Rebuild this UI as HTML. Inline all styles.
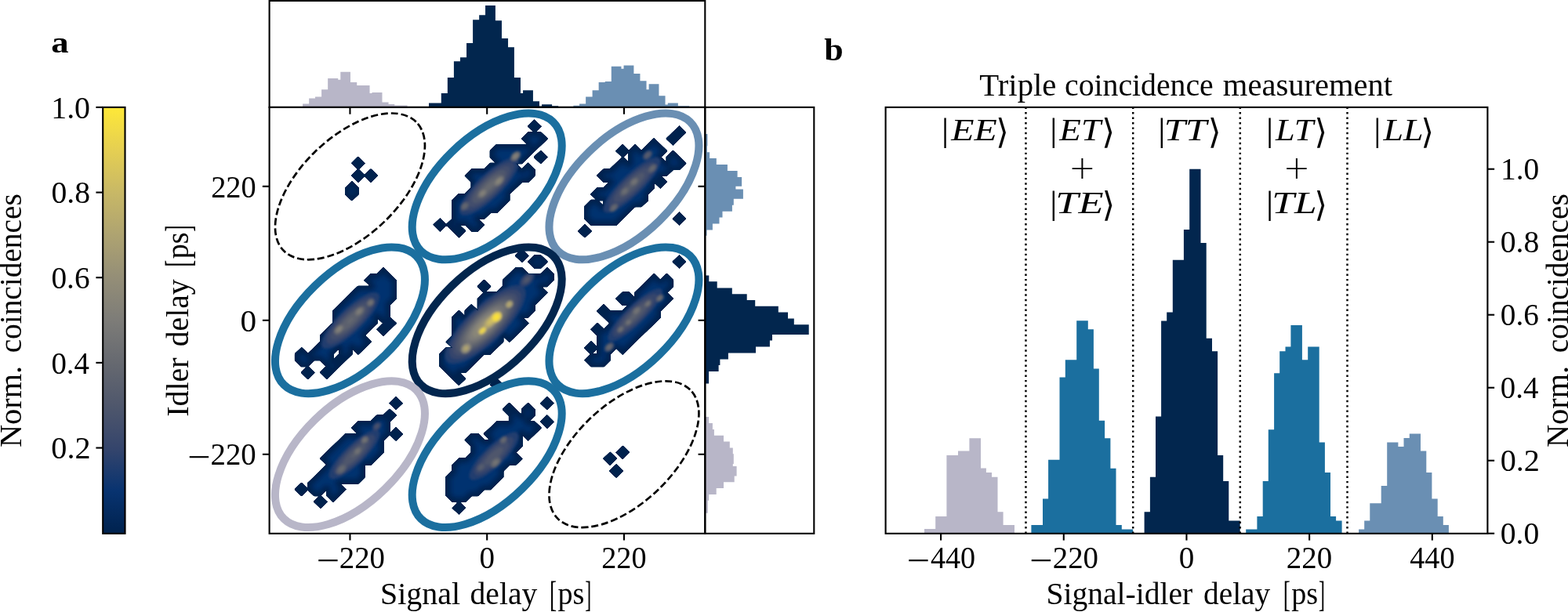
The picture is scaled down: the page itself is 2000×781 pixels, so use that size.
<!DOCTYPE html>
<html lang="en"><head><meta charset="utf-8"><title>Figure</title>
<style>html,body{margin:0;padding:0;background:#fff;overflow:hidden}svg{display:block}</style></head>
<body>
<svg width="2000" height="781" viewBox="0 0 2000 781" font-family="'Liberation Serif', serif" fill="#000">
<rect width="2000" height="781" fill="#fff"/>
<defs><linearGradient id="cb" x1="0" y1="1" x2="0" y2="0">
<stop offset="0.0" stop-color="#00224e"/>
<stop offset="0.1" stop-color="#083370"/>
<stop offset="0.2" stop-color="#35456c"/>
<stop offset="0.3" stop-color="#4f576c"/>
<stop offset="0.4" stop-color="#666970"/>
<stop offset="0.5" stop-color="#7d7c78"/>
<stop offset="0.6" stop-color="#948e77"/>
<stop offset="0.7" stop-color="#aea371"/>
<stop offset="0.8" stop-color="#c8b866"/>
<stop offset="0.9" stop-color="#e5cf52"/>
<stop offset="1.0" stop-color="#fee838"/>
</linearGradient></defs>
<rect x="131.2" y="136.9" width="28.30" height="543.95" fill="url(#cb)" stroke="#000" stroke-width="2.1"/>
<path d="M122.4,136.90H131.2" stroke="#000" stroke-width="2.1"/>
<text x="65.22" y="150.55" font-size="39.0" textLength="49.78" lengthAdjust="spacingAndGlyphs">1.0</text>
<path d="M122.4,245.56H131.2" stroke="#000" stroke-width="2.1"/>
<text x="65.41" y="259.21" font-size="39.0" textLength="49.57" lengthAdjust="spacingAndGlyphs">0.8</text>
<path d="M122.4,354.22H131.2" stroke="#000" stroke-width="2.1"/>
<text x="65.43" y="367.87" font-size="39.0" textLength="49.15" lengthAdjust="spacingAndGlyphs">0.6</text>
<path d="M122.4,462.88H131.2" stroke="#000" stroke-width="2.1"/>
<text x="65.45" y="476.53" font-size="39.0" textLength="48.54" lengthAdjust="spacingAndGlyphs">0.4</text>
<path d="M122.4,571.54H131.2" stroke="#000" stroke-width="2.1"/>
<text x="65.39" y="585.19" font-size="39.0" textLength="50.22" lengthAdjust="spacingAndGlyphs">0.2</text>
<text transform="translate(26.90,409.50) rotate(-90)" font-size="40.0" xml:space="preserve"><tspan x="-161.51" y="0.00" font-size="40.0" textLength="104.15" lengthAdjust="spacingAndGlyphs">Norm.</tspan> <tspan x="-40.87" y="0.00" font-size="40.0" textLength="203.11" lengthAdjust="spacingAndGlyphs">coincidences</tspan></text>
<path d="M386.09,136.90V132.51H394.16V136.90ZM394.16,136.90V125.41H402.03V136.90ZM402.03,136.90V123.49H410.10V136.90ZM410.10,136.90V114.27H418.16V136.90ZM418.16,136.90V100.06H431.22V136.90ZM431.22,136.90V101.79H434.30V136.90ZM434.30,136.90V91.80H446.97V136.90ZM446.97,136.90V105.05H455.23V136.90ZM455.23,136.90V109.08H471.55V136.90ZM471.55,136.90V119.07H474.43V136.90ZM474.43,136.90V118.11H487.49V136.90ZM487.49,136.90V130.59H495.56V136.90ZM495.56,136.90V133.09H503.24V136.90ZM503.24,136.90V134.43H519.57V136.90Z" fill="#b8b6c8"/>
<path d="M547.03,136.90V131.55H562.78V136.90ZM562.78,136.90V119.07H570.84V136.90ZM570.84,136.90V99.10H578.91V136.90ZM578.91,136.90V78.36H586.98V136.90ZM586.98,136.90V73.36H595.04V136.90ZM595.04,136.90V55.12H603.11V136.90ZM603.11,136.90V25.35H611.17V136.90ZM611.17,136.90V19.20H619.05V136.90ZM619.05,136.90V7.11H631.91V136.90ZM631.91,136.90V26.31H639.97V136.90ZM639.97,136.90V48.97H648.04V136.90ZM648.04,136.90V60.30H655.91V136.90ZM655.91,136.90V99.10H663.98V136.90ZM663.98,136.90V119.07H667.05V136.90ZM667.05,136.90V115.23H679.92V136.90ZM679.92,136.90V129.25H687.99V136.90ZM687.99,136.90V135.39H691.06V136.90ZM691.06,136.90V133.28H704.12V136.90ZM704.12,136.90V135.20H712.18V136.90Z" fill="#02264e"/>
<path d="M731.39,136.90V134.82H739.07V136.90ZM739.07,136.90V132.51H747.14V136.90ZM747.14,136.90V123.49H755.59V136.90ZM755.59,136.90V115.23H763.65V136.90ZM763.65,136.90V105.05H771.72V136.90ZM771.72,136.90V104.09H779.78V136.90ZM779.78,136.90V84.69H792.46V136.90ZM792.46,136.90V87.77H795.53V136.90ZM795.53,136.90V83.54H808.40V136.90ZM808.40,136.90V93.91H816.47V136.90ZM816.47,136.90V103.13H824.53V136.90ZM824.53,136.90V114.27H827.61V136.90ZM827.61,136.90V107.16H840.47V136.90ZM840.47,136.90V122.34H848.54V136.90ZM848.54,136.90V133.47H851.80V136.90ZM851.80,136.90V131.55H864.86V136.90ZM864.86,136.90V135.20H879.27V136.90Z" fill="#6a8fb3"/>
<path d="M899.30,170.90H902.40V186.20H899.30ZM899.30,186.20H901.90V194.20H899.30ZM899.30,194.20H905.10V202.00H899.30ZM899.30,202.00H913.80V209.90H899.30ZM899.30,209.90H927.90V218.00H899.30ZM899.30,218.00H940.60V225.90H899.30ZM899.30,225.90H946.10V237.80H899.30ZM899.30,237.80H938.40V241.40H899.30ZM899.30,241.40H947.90V253.80H899.30ZM899.30,253.80H935.80V261.80H899.30ZM899.30,261.80H933.90V269.70H899.30ZM899.30,269.70H921.50V277.60H899.30ZM899.30,277.60H917.50V285.50H899.30ZM899.30,285.50H908.90V293.40H899.30ZM899.30,293.40H901.50V300.80H899.30Z" fill="#6a8fb3"/>
<path d="M899.30,351.40H904.30V359.30H899.30ZM899.30,359.30H914.70V367.40H899.30ZM899.30,367.40H933.80V375.30H899.30ZM899.30,375.30H952.70V383.10H899.30ZM899.30,383.10H963.20V390.80H899.30ZM899.30,390.80H992.80V398.50H899.30ZM899.30,398.50H1005.00V406.40H899.30ZM899.30,406.40H1012.80V414.20H899.30ZM899.30,414.20H1031.70V426.90H899.30ZM899.30,426.90H985.00V434.60H899.30ZM899.30,434.60H981.90V442.50H899.30ZM899.30,442.50H964.00V450.40H899.30ZM899.30,450.40H928.90V458.40H899.30ZM899.30,458.40H918.40V466.10H899.30ZM899.30,466.10H916.60V473.90H899.30ZM899.30,473.90H904.10V489.60H899.30Z" fill="#02264e"/>
<path d="M899.30,532.00H904.10V540.10H899.30ZM899.30,540.10H908.90V547.90H899.30ZM899.30,547.90H910.90V555.80H899.30ZM899.30,555.80H923.00V563.50H899.30ZM899.30,563.50H930.80V571.50H899.30ZM899.30,571.50H934.80V579.30H899.30ZM899.30,579.30H935.80V591.90H899.30ZM899.30,591.90H934.80V595.00H899.30ZM899.30,595.00H939.60V607.50H899.30ZM899.30,607.50H936.70V615.20H899.30ZM899.30,615.20H923.00V623.00H899.30ZM899.30,623.00H913.70V631.00H899.30ZM899.30,631.00H904.10V638.70H899.30ZM899.30,638.70H902.80V654.70H899.30Z" fill="#b8b6c8"/>
<defs><filter id="bl3" x="-20%" y="-20%" width="140%" height="140%"><feGaussianBlur stdDeviation="3.0"/></filter><filter id="bl2" x="-20%" y="-20%" width="140%" height="140%"><feGaussianBlur stdDeviation="1.8"/></filter><filter id="goo" x="-10%" y="-10%" width="120%" height="120%" color-interpolation-filters="sRGB"><feGaussianBlur stdDeviation="0.7"/><feComponentTransfer><feFuncA type="linear" slope="3" intercept="-1.0"/></feComponentTransfer></filter></defs>
<clipPath id="cpC"><path d="M577.3,404.7L585.4,396.8L593.4,404.7L593.4,396.8L601.4,389.0L609.5,396.8L609.5,381.1L617.5,373.3L633.6,373.3L641.6,365.4L641.6,357.6L657.6,341.9L665.7,341.9L673.7,349.7L689.8,349.7L697.8,341.9L705.8,349.7L705.8,357.6L697.8,365.4L689.8,365.4L697.8,373.3L681.7,389.0L681.7,396.8L673.7,404.7L665.7,404.7L673.7,412.5L649.6,436.1L641.6,428.2L641.6,436.1L625.5,451.8L617.5,451.8L593.4,475.3L585.4,475.3L593.4,483.2L585.4,491.0L561.3,467.5L561.3,451.8L569.3,443.9L577.3,443.9L569.3,436.1L577.3,428.2ZM609.5,365.4L617.5,357.6L625.5,365.4L617.5,373.3ZM657.6,326.2L665.7,318.3L673.7,326.2L665.7,334.0ZM673.7,334.0L681.7,326.2L689.8,326.2L697.8,334.0L689.8,341.9L681.7,341.9ZM625.5,491.0L633.6,483.2L641.6,491.0L633.6,498.9Z" clip-rule="evenodd"/></clipPath>
<path d="M577.3,404.7L585.4,396.8L593.4,404.7L593.4,396.8L601.4,389.0L609.5,396.8L609.5,381.1L617.5,373.3L633.6,373.3L641.6,365.4L641.6,357.6L657.6,341.9L665.7,341.9L673.7,349.7L689.8,349.7L697.8,341.9L705.8,349.7L705.8,357.6L697.8,365.4L689.8,365.4L697.8,373.3L681.7,389.0L681.7,396.8L673.7,404.7L665.7,404.7L673.7,412.5L649.6,436.1L641.6,428.2L641.6,436.1L625.5,451.8L617.5,451.8L593.4,475.3L585.4,475.3L593.4,483.2L585.4,491.0L561.3,467.5L561.3,451.8L569.3,443.9L577.3,443.9L569.3,436.1L577.3,428.2ZM609.5,365.4L617.5,357.6L625.5,365.4L617.5,373.3ZM657.6,326.2L665.7,318.3L673.7,326.2L665.7,334.0ZM673.7,334.0L681.7,326.2L689.8,326.2L697.8,334.0L689.8,341.9L681.7,341.9ZM625.5,491.0L633.6,483.2L641.6,491.0L633.6,498.9Z" fill="#00224e" fill-rule="evenodd" stroke="#00224e" stroke-width="2.0" stroke-linejoin="round" filter="url(#goo)"/>
<g clip-path="url(#cpC)"><path d="M577.3,404.7L585.4,396.8L593.4,404.7L593.4,396.8L601.4,389.0L609.5,396.8L609.5,381.1L617.5,373.3L633.6,373.3L641.6,365.4L641.6,357.6L657.6,341.9L665.7,341.9L673.7,349.7L689.8,349.7L697.8,341.9L705.8,349.7L705.8,357.6L697.8,365.4L689.8,365.4L697.8,373.3L681.7,389.0L681.7,396.8L673.7,404.7L665.7,404.7L673.7,412.5L649.6,436.1L641.6,428.2L641.6,436.1L625.5,451.8L617.5,451.8L593.4,475.3L585.4,475.3L593.4,483.2L585.4,491.0L561.3,467.5L561.3,451.8L569.3,443.9L577.3,443.9L569.3,436.1L577.3,428.2ZM609.5,365.4L617.5,357.6L625.5,365.4L617.5,373.3ZM657.6,326.2L665.7,318.3L673.7,326.2L665.7,334.0ZM673.7,334.0L681.7,326.2L689.8,326.2L697.8,334.0L689.8,341.9L681.7,341.9ZM625.5,491.0L633.6,483.2L641.6,491.0L633.6,498.9Z" fill="#06316f" fill-rule="evenodd" stroke="#00224e" stroke-width="11" stroke-linejoin="round" filter="url(#bl3)"/><g filter="url(#bl2)"><ellipse cx="619" cy="414" rx="68.0" ry="23.3" transform="rotate(-44 619 414)" fill="#243c6e"/><ellipse cx="619" cy="414" rx="60.4" ry="20.7" transform="rotate(-44 619 414)" fill="#35456c"/><ellipse cx="619" cy="414" rx="54.1" ry="18.5" transform="rotate(-44 619 414)" fill="#434e6c"/><ellipse cx="619" cy="414" rx="48.5" ry="16.6" transform="rotate(-44 619 414)" fill="#4f576c"/><ellipse cx="619" cy="414" rx="43.2" ry="14.8" transform="rotate(-44 619 414)" fill="#5b606e"/><ellipse cx="619" cy="414" rx="38.1" ry="13.0" transform="rotate(-44 619 414)" fill="#666970"/><ellipse cx="619" cy="414" rx="33.0" ry="11.3" transform="rotate(-44 619 414)" fill="#727274"/><ellipse cx="619" cy="414" rx="27.7" ry="9.5" transform="rotate(-44 619 414)" fill="#7d7c78"/><ellipse cx="619" cy="414" rx="21.9" ry="7.5" transform="rotate(-44 619 414)" fill="#888578"/><ellipse cx="619" cy="414" rx="14.8" ry="5.0" transform="rotate(-44 619 414)" fill="#948e77"/><ellipse cx="626" cy="410" rx="13.4" ry="6.3" transform="rotate(-44 626 410)" fill="#9b9476"/><ellipse cx="626" cy="410" rx="11.6" ry="5.5" transform="rotate(-44 626 410)" fill="#a79d73"/><ellipse cx="626" cy="410" rx="9.6" ry="4.5" transform="rotate(-44 626 410)" fill="#b5a86f"/><ellipse cx="626" cy="410" rx="7.2" ry="3.4" transform="rotate(-44 626 410)" fill="#c2b369"/><ellipse cx="626" cy="410" rx="3.8" ry="1.8" transform="rotate(-44 626 410)" fill="#d0be62"/><ellipse cx="633.1" cy="404.8" rx="8.0" ry="6.0" transform="rotate(-44 633.1 404.8)" fill="#d0be62"/><ellipse cx="633.1" cy="404.8" rx="6.8" ry="5.1" transform="rotate(-44 633.1 404.8)" fill="#dec958"/><ellipse cx="633.1" cy="404.8" rx="5.5" ry="4.1" transform="rotate(-44 633.1 404.8)" fill="#ebd44b"/><ellipse cx="633.1" cy="404.8" rx="3.8" ry="2.9" transform="rotate(-44 633.1 404.8)" fill="#fbe138"/><ellipse cx="615.5" cy="422" rx="5.9" ry="3.5" transform="rotate(-44 615.5 422)" fill="#d0be62"/><ellipse cx="615.5" cy="422" rx="4.7" ry="2.8" transform="rotate(-44 615.5 422)" fill="#dec958"/><ellipse cx="615.5" cy="422" rx="3.3" ry="2.0" transform="rotate(-44 615.5 422)" fill="#ebd44b"/><ellipse cx="649.5" cy="388.4" rx="5.4" ry="4.2" transform="rotate(-44 649.5 388.4)" fill="#8f8a78"/><ellipse cx="649.5" cy="388.4" rx="4.5" ry="3.6" transform="rotate(-44 649.5 388.4)" fill="#9b9476"/><ellipse cx="649.5" cy="388.4" rx="3.6" ry="2.8" transform="rotate(-44 649.5 388.4)" fill="#a79d73"/><ellipse cx="649.5" cy="388.4" rx="2.3" ry="1.8" transform="rotate(-44 649.5 388.4)" fill="#b5a86f"/><ellipse cx="594.5" cy="444.5" rx="7.8" ry="5.8" transform="rotate(-44 594.5 444.5)" fill="#777776"/><ellipse cx="594.5" cy="444.5" rx="6.8" ry="5.1" transform="rotate(-44 594.5 444.5)" fill="#828079"/><ellipse cx="594.5" cy="444.5" rx="5.9" ry="4.4" transform="rotate(-44 594.5 444.5)" fill="#8f8a78"/><ellipse cx="594.5" cy="444.5" rx="4.8" ry="3.6" transform="rotate(-44 594.5 444.5)" fill="#9b9476"/><ellipse cx="594.5" cy="444.5" rx="3.6" ry="2.7" transform="rotate(-44 594.5 444.5)" fill="#a79d73"/><ellipse cx="594.5" cy="444.5" rx="1.9" ry="1.4" transform="rotate(-44 594.5 444.5)" fill="#b5a86f"/><ellipse cx="672" cy="357" rx="11.9" ry="6.6" transform="rotate(-44 672 357)" fill="#243c6e"/><ellipse cx="672" cy="357" rx="9.3" ry="5.2" transform="rotate(-44 672 357)" fill="#35456c"/><ellipse cx="672" cy="357" rx="6.8" ry="3.8" transform="rotate(-44 672 357)" fill="#434e6c"/><ellipse cx="672" cy="357" rx="3.8" ry="2.1" transform="rotate(-44 672 357)" fill="#4f576c"/></g></g>
<clipPath id="cpL"><path d="M376.6,451.8L384.6,443.9L392.7,451.8L408.7,436.1L408.7,428.2L424.8,412.5L424.8,396.8L456.9,365.4L473.0,365.4L464.9,357.6L473.0,349.7L481.0,349.7L489.0,341.9L505.1,357.6L505.1,381.1L497.0,389.0L497.0,404.7L505.1,412.5L489.0,428.2L481.0,420.4L489.0,412.5L481.0,404.7L481.0,412.5L464.9,428.2L473.0,436.1L456.9,451.8L448.9,443.9L448.9,451.8L416.8,483.2L408.7,475.3L416.8,467.5L408.7,459.6L400.7,459.6L392.7,467.5L384.6,467.5L376.6,459.6ZM384.6,475.3L392.7,467.5L400.7,475.3L392.7,483.2ZM424.8,451.8L432.8,443.9L432.8,451.8L424.8,459.6Z" clip-rule="evenodd"/></clipPath>
<path d="M376.6,451.8L384.6,443.9L392.7,451.8L408.7,436.1L408.7,428.2L424.8,412.5L424.8,396.8L456.9,365.4L473.0,365.4L464.9,357.6L473.0,349.7L481.0,349.7L489.0,341.9L505.1,357.6L505.1,381.1L497.0,389.0L497.0,404.7L505.1,412.5L489.0,428.2L481.0,420.4L489.0,412.5L481.0,404.7L481.0,412.5L464.9,428.2L473.0,436.1L456.9,451.8L448.9,443.9L448.9,451.8L416.8,483.2L408.7,475.3L416.8,467.5L408.7,459.6L400.7,459.6L392.7,467.5L384.6,467.5L376.6,459.6ZM384.6,475.3L392.7,467.5L400.7,475.3L392.7,483.2ZM424.8,451.8L432.8,443.9L432.8,451.8L424.8,459.6Z" fill="#00224e" fill-rule="evenodd" stroke="#00224e" stroke-width="2.0" stroke-linejoin="round" filter="url(#goo)"/>
<g clip-path="url(#cpL)"><path d="M376.6,451.8L384.6,443.9L392.7,451.8L408.7,436.1L408.7,428.2L424.8,412.5L424.8,396.8L456.9,365.4L473.0,365.4L464.9,357.6L473.0,349.7L481.0,349.7L489.0,341.9L505.1,357.6L505.1,381.1L497.0,389.0L497.0,404.7L505.1,412.5L489.0,428.2L481.0,420.4L489.0,412.5L481.0,404.7L481.0,412.5L464.9,428.2L473.0,436.1L456.9,451.8L448.9,443.9L448.9,451.8L416.8,483.2L408.7,475.3L416.8,467.5L408.7,459.6L400.7,459.6L392.7,467.5L384.6,467.5L376.6,459.6ZM384.6,475.3L392.7,467.5L400.7,475.3L392.7,483.2ZM424.8,451.8L432.8,443.9L432.8,451.8L424.8,459.6Z" fill="#06316f" fill-rule="evenodd" stroke="#00224e" stroke-width="11" stroke-linejoin="round" filter="url(#bl3)"/><g filter="url(#bl2)"><ellipse cx="447" cy="409" rx="49.2" ry="14.9" transform="rotate(-44 447 409)" fill="#243c6e"/><ellipse cx="447" cy="409" rx="41.1" ry="12.5" transform="rotate(-44 447 409)" fill="#35456c"/><ellipse cx="447" cy="409" rx="33.8" ry="10.2" transform="rotate(-44 447 409)" fill="#434e6c"/><ellipse cx="447" cy="409" rx="26.5" ry="8.0" transform="rotate(-44 447 409)" fill="#4f576c"/><ellipse cx="447" cy="409" rx="18.5" ry="5.6" transform="rotate(-44 447 409)" fill="#5b606e"/><ellipse cx="447" cy="409" rx="5.4" ry="1.6" transform="rotate(-44 447 409)" fill="#666970"/><ellipse cx="472.5" cy="386.4" rx="5.7" ry="4.3" transform="rotate(-44 472.5 386.4)" fill="#555c6d"/><ellipse cx="472.5" cy="386.4" rx="4.6" ry="3.5" transform="rotate(-44 472.5 386.4)" fill="#61656f"/><ellipse cx="472.5" cy="386.4" rx="3.4" ry="2.6" transform="rotate(-44 472.5 386.4)" fill="#6c6d72"/><ellipse cx="472.5" cy="386.4" rx="1.8" ry="1.3" transform="rotate(-44 472.5 386.4)" fill="#777776"/><ellipse cx="458.1" cy="397.6" rx="7.7" ry="4.7" transform="rotate(-44 458.1 397.6)" fill="#61656f"/><ellipse cx="458.1" cy="397.6" rx="6.2" ry="3.8" transform="rotate(-44 458.1 397.6)" fill="#6c6d72"/><ellipse cx="458.1" cy="397.6" rx="4.5" ry="2.7" transform="rotate(-44 458.1 397.6)" fill="#777776"/><ellipse cx="458.1" cy="397.6" rx="1.8" ry="1.1" transform="rotate(-44 458.1 397.6)" fill="#828079"/><ellipse cx="432.5" cy="420.2" rx="8.0" ry="4.7" transform="rotate(-44 432.5 420.2)" fill="#61656f"/><ellipse cx="432.5" cy="420.2" rx="6.7" ry="3.9" transform="rotate(-44 432.5 420.2)" fill="#6c6d72"/><ellipse cx="432.5" cy="420.2" rx="5.2" ry="3.1" transform="rotate(-44 432.5 420.2)" fill="#777776"/><ellipse cx="432.5" cy="420.2" rx="3.4" ry="2.0" transform="rotate(-44 432.5 420.2)" fill="#828079"/></g></g>
<clipPath id="cpT"><path d="M569.3,286.9L577.3,279.1L577.3,255.5L585.4,247.7L593.4,247.7L601.4,239.8L601.4,232.0L593.4,224.1L601.4,216.3L617.5,216.3L625.5,208.4L633.6,208.4L625.5,200.5L625.5,192.7L633.6,184.8L673.7,184.8L665.7,177.0L673.7,169.1L689.8,169.1L697.8,177.0L665.7,208.4L657.6,208.4L665.7,216.3L673.7,208.4L681.7,216.3L681.7,224.1L673.7,232.0L665.7,232.0L649.6,247.7L649.6,255.5L633.6,271.2L625.5,271.2L617.5,279.1L609.5,279.1L617.5,286.9L609.5,294.8L601.4,294.8L593.4,286.9L585.4,286.9L593.4,294.8L585.4,302.6ZM553.3,286.9L561.3,279.1L569.3,286.9L561.3,294.8ZM673.7,161.3L681.7,153.4L689.8,161.3L681.7,169.1ZM681.7,200.5L689.8,192.7L697.8,200.5L689.8,208.4Z" clip-rule="evenodd"/></clipPath>
<path d="M569.3,286.9L577.3,279.1L577.3,255.5L585.4,247.7L593.4,247.7L601.4,239.8L601.4,232.0L593.4,224.1L601.4,216.3L617.5,216.3L625.5,208.4L633.6,208.4L625.5,200.5L625.5,192.7L633.6,184.8L673.7,184.8L665.7,177.0L673.7,169.1L689.8,169.1L697.8,177.0L665.7,208.4L657.6,208.4L665.7,216.3L673.7,208.4L681.7,216.3L681.7,224.1L673.7,232.0L665.7,232.0L649.6,247.7L649.6,255.5L633.6,271.2L625.5,271.2L617.5,279.1L609.5,279.1L617.5,286.9L609.5,294.8L601.4,294.8L593.4,286.9L585.4,286.9L593.4,294.8L585.4,302.6ZM553.3,286.9L561.3,279.1L569.3,286.9L561.3,294.8ZM673.7,161.3L681.7,153.4L689.8,161.3L681.7,169.1ZM681.7,200.5L689.8,192.7L697.8,200.5L689.8,208.4Z" fill="#00224e" fill-rule="evenodd" stroke="#00224e" stroke-width="2.0" stroke-linejoin="round" filter="url(#goo)"/>
<g clip-path="url(#cpT)"><path d="M569.3,286.9L577.3,279.1L577.3,255.5L585.4,247.7L593.4,247.7L601.4,239.8L601.4,232.0L593.4,224.1L601.4,216.3L617.5,216.3L625.5,208.4L633.6,208.4L625.5,200.5L625.5,192.7L633.6,184.8L673.7,184.8L665.7,177.0L673.7,169.1L689.8,169.1L697.8,177.0L665.7,208.4L657.6,208.4L665.7,216.3L673.7,208.4L681.7,216.3L681.7,224.1L673.7,232.0L665.7,232.0L649.6,247.7L649.6,255.5L633.6,271.2L625.5,271.2L617.5,279.1L609.5,279.1L617.5,286.9L609.5,294.8L601.4,294.8L593.4,286.9L585.4,286.9L593.4,294.8L585.4,302.6ZM553.3,286.9L561.3,279.1L569.3,286.9L561.3,294.8ZM673.7,161.3L681.7,153.4L689.8,161.3L681.7,169.1ZM681.7,200.5L689.8,192.7L697.8,200.5L689.8,208.4Z" fill="#06316f" fill-rule="evenodd" stroke="#00224e" stroke-width="11" stroke-linejoin="round" filter="url(#bl3)"/><g filter="url(#bl2)"><ellipse cx="624" cy="238" rx="50.3" ry="15.3" transform="rotate(-44 624 238)" fill="#243c6e"/><ellipse cx="624" cy="238" rx="42.4" ry="12.9" transform="rotate(-44 624 238)" fill="#35456c"/><ellipse cx="624" cy="238" rx="35.4" ry="10.7" transform="rotate(-44 624 238)" fill="#434e6c"/><ellipse cx="624" cy="238" rx="28.6" ry="8.7" transform="rotate(-44 624 238)" fill="#4f576c"/><ellipse cx="624" cy="238" rx="21.3" ry="6.4" transform="rotate(-44 624 238)" fill="#5b606e"/><ellipse cx="624" cy="238" rx="11.9" ry="3.6" transform="rotate(-44 624 238)" fill="#666970"/><ellipse cx="657.6" cy="199.4" rx="7.7" ry="5.0" transform="rotate(-44 657.6 199.4)" fill="#555c6d"/><ellipse cx="657.6" cy="199.4" rx="6.7" ry="4.3" transform="rotate(-44 657.6 199.4)" fill="#61656f"/><ellipse cx="657.6" cy="199.4" rx="5.6" ry="3.6" transform="rotate(-44 657.6 199.4)" fill="#6c6d72"/><ellipse cx="657.6" cy="199.4" rx="4.4" ry="2.9" transform="rotate(-44 657.6 199.4)" fill="#777776"/><ellipse cx="657.6" cy="199.4" rx="3.1" ry="2.0" transform="rotate(-44 657.6 199.4)" fill="#828079"/><ellipse cx="636.1" cy="231.2" rx="8.8" ry="4.8" transform="rotate(-44 636.1 231.2)" fill="#666970"/><ellipse cx="636.1" cy="231.2" rx="7.3" ry="4.0" transform="rotate(-44 636.1 231.2)" fill="#727274"/><ellipse cx="636.1" cy="231.2" rx="5.6" ry="3.1" transform="rotate(-44 636.1 231.2)" fill="#7d7c78"/><ellipse cx="636.1" cy="231.2" rx="3.3" ry="1.8" transform="rotate(-44 636.1 231.2)" fill="#888578"/><ellipse cx="615.6" cy="246.6" rx="7.5" ry="4.6" transform="rotate(-44 615.6 246.6)" fill="#666970"/><ellipse cx="615.6" cy="246.6" rx="6.1" ry="3.7" transform="rotate(-44 615.6 246.6)" fill="#727274"/><ellipse cx="615.6" cy="246.6" rx="4.4" ry="2.7" transform="rotate(-44 615.6 246.6)" fill="#7d7c78"/><ellipse cx="615.6" cy="246.6" rx="1.7" ry="1.1" transform="rotate(-44 615.6 246.6)" fill="#888578"/><ellipse cx="593" cy="263" rx="6.8" ry="4.8" transform="rotate(-44 593 263)" fill="#49536c"/><ellipse cx="593" cy="263" rx="5.3" ry="3.8" transform="rotate(-44 593 263)" fill="#555c6d"/><ellipse cx="593" cy="263" rx="3.6" ry="2.6" transform="rotate(-44 593 263)" fill="#61656f"/></g></g>
<clipPath id="cpTR"><path d="M746.0,263.4L754.0,255.5L762.0,255.5L754.0,247.7L762.0,239.8L770.1,239.8L778.1,232.0L770.1,232.0L762.0,224.1L770.1,216.3L778.1,216.3L794.2,200.5L802.2,208.4L802.2,192.7L810.2,184.8L818.2,192.7L834.3,177.0L850.4,192.7L842.3,200.5L850.4,208.4L850.4,200.5L858.4,192.7L874.5,208.4L866.4,216.3L858.4,216.3L850.4,224.1L842.3,224.1L850.4,232.0L842.3,239.8L834.3,232.0L834.3,239.8L826.3,247.7L826.3,255.5L818.2,263.4L810.2,263.4L786.1,286.9L754.0,286.9L746.0,279.1ZM786.1,192.7L794.2,184.8L802.2,192.7L794.2,200.5ZM850.4,177.0L866.4,161.3L874.5,169.1L858.4,184.8ZM737.9,294.8L746.0,286.9L754.0,294.8L746.0,302.6ZM858.4,279.1L866.4,271.2L874.5,279.1L866.4,286.9ZM762.0,255.5L770.1,255.5L770.1,263.4Z" clip-rule="evenodd"/></clipPath>
<path d="M746.0,263.4L754.0,255.5L762.0,255.5L754.0,247.7L762.0,239.8L770.1,239.8L778.1,232.0L770.1,232.0L762.0,224.1L770.1,216.3L778.1,216.3L794.2,200.5L802.2,208.4L802.2,192.7L810.2,184.8L818.2,192.7L834.3,177.0L850.4,192.7L842.3,200.5L850.4,208.4L850.4,200.5L858.4,192.7L874.5,208.4L866.4,216.3L858.4,216.3L850.4,224.1L842.3,224.1L850.4,232.0L842.3,239.8L834.3,232.0L834.3,239.8L826.3,247.7L826.3,255.5L818.2,263.4L810.2,263.4L786.1,286.9L754.0,286.9L746.0,279.1ZM786.1,192.7L794.2,184.8L802.2,192.7L794.2,200.5ZM850.4,177.0L866.4,161.3L874.5,169.1L858.4,184.8ZM737.9,294.8L746.0,286.9L754.0,294.8L746.0,302.6ZM858.4,279.1L866.4,271.2L874.5,279.1L866.4,286.9ZM762.0,255.5L770.1,255.5L770.1,263.4Z" fill="#00224e" fill-rule="evenodd" stroke="#00224e" stroke-width="2.0" stroke-linejoin="round" filter="url(#goo)"/>
<g clip-path="url(#cpTR)"><path d="M746.0,263.4L754.0,255.5L762.0,255.5L754.0,247.7L762.0,239.8L770.1,239.8L778.1,232.0L770.1,232.0L762.0,224.1L770.1,216.3L778.1,216.3L794.2,200.5L802.2,208.4L802.2,192.7L810.2,184.8L818.2,192.7L834.3,177.0L850.4,192.7L842.3,200.5L850.4,208.4L850.4,200.5L858.4,192.7L874.5,208.4L866.4,216.3L858.4,216.3L850.4,224.1L842.3,224.1L850.4,232.0L842.3,239.8L834.3,232.0L834.3,239.8L826.3,247.7L826.3,255.5L818.2,263.4L810.2,263.4L786.1,286.9L754.0,286.9L746.0,279.1ZM786.1,192.7L794.2,184.8L802.2,192.7L794.2,200.5ZM850.4,177.0L866.4,161.3L874.5,169.1L858.4,184.8ZM737.9,294.8L746.0,286.9L754.0,294.8L746.0,302.6ZM858.4,279.1L866.4,271.2L874.5,279.1L866.4,286.9ZM762.0,255.5L770.1,255.5L770.1,263.4Z" fill="#06316f" fill-rule="evenodd" stroke="#00224e" stroke-width="11" stroke-linejoin="round" filter="url(#bl3)"/><g filter="url(#bl2)"><ellipse cx="806" cy="236" rx="48.8" ry="13.2" transform="rotate(-44 806 236)" fill="#243c6e"/><ellipse cx="806" cy="236" rx="39.4" ry="10.7" transform="rotate(-44 806 236)" fill="#35456c"/><ellipse cx="806" cy="236" rx="30.6" ry="8.3" transform="rotate(-44 806 236)" fill="#434e6c"/><ellipse cx="806" cy="236" rx="21.1" ry="5.7" transform="rotate(-44 806 236)" fill="#4f576c"/><ellipse cx="806" cy="236" rx="6.1" ry="1.7" transform="rotate(-44 806 236)" fill="#5b606e"/><ellipse cx="826" cy="198" rx="7.2" ry="4.6" transform="rotate(-44 826 198)" fill="#3c4a6c"/><ellipse cx="826" cy="198" rx="5.5" ry="3.5" transform="rotate(-44 826 198)" fill="#49536c"/><ellipse cx="826" cy="198" rx="3.5" ry="2.3" transform="rotate(-44 826 198)" fill="#555c6d"/><ellipse cx="832" cy="215" rx="7.2" ry="4.2" transform="rotate(-44 832 215)" fill="#4f576c"/><ellipse cx="832" cy="215" rx="5.3" ry="3.1" transform="rotate(-44 832 215)" fill="#5b606e"/><ellipse cx="832" cy="215" rx="2.7" ry="1.6" transform="rotate(-44 832 215)" fill="#666970"/><ellipse cx="809" cy="232" rx="7.0" ry="4.4" transform="rotate(-44 809 232)" fill="#5b606e"/><ellipse cx="809" cy="232" rx="5.5" ry="3.5" transform="rotate(-44 809 232)" fill="#666970"/><ellipse cx="809" cy="232" rx="3.8" ry="2.4" transform="rotate(-44 809 232)" fill="#727274"/><ellipse cx="797" cy="244" rx="6.5" ry="4.2" transform="rotate(-44 797 244)" fill="#5b606e"/><ellipse cx="797" cy="244" rx="4.7" ry="3.0" transform="rotate(-44 797 244)" fill="#666970"/><ellipse cx="797" cy="244" rx="1.8" ry="1.2" transform="rotate(-44 797 244)" fill="#727274"/><ellipse cx="783" cy="265" rx="6.8" ry="4.2" transform="rotate(-44 783 265)" fill="#4f576c"/><ellipse cx="783" cy="265" rx="5.0" ry="3.1" transform="rotate(-44 783 265)" fill="#5b606e"/><ellipse cx="783" cy="265" rx="2.6" ry="1.6" transform="rotate(-44 783 265)" fill="#666970"/></g></g>
<clipPath id="cpR"><path d="M746.0,459.6L754.0,451.8L762.0,451.8L762.0,443.9L762.0,428.2L754.0,420.4L762.0,412.5L770.1,420.4L778.1,412.5L762.0,396.8L770.1,389.0L778.1,396.8L794.2,396.8L802.2,389.0L794.2,389.0L786.1,381.1L794.2,373.3L802.2,373.3L810.2,381.1L810.2,373.3L834.3,349.7L842.3,357.6L850.4,349.7L858.4,357.6L858.4,365.4L850.4,373.3L858.4,381.1L842.3,396.8L842.3,404.7L834.3,412.5L794.2,451.8L786.1,443.9L778.1,451.8L778.1,459.6L770.1,467.5L754.0,467.5ZM746.0,443.9L754.0,436.1L762.0,443.9L754.0,451.8ZM858.4,334.0L866.4,326.2L874.5,334.0L866.4,341.9Z" clip-rule="evenodd"/></clipPath>
<path d="M746.0,459.6L754.0,451.8L762.0,451.8L762.0,443.9L762.0,428.2L754.0,420.4L762.0,412.5L770.1,420.4L778.1,412.5L762.0,396.8L770.1,389.0L778.1,396.8L794.2,396.8L802.2,389.0L794.2,389.0L786.1,381.1L794.2,373.3L802.2,373.3L810.2,381.1L810.2,373.3L834.3,349.7L842.3,357.6L850.4,349.7L858.4,357.6L858.4,365.4L850.4,373.3L858.4,381.1L842.3,396.8L842.3,404.7L834.3,412.5L794.2,451.8L786.1,443.9L778.1,451.8L778.1,459.6L770.1,467.5L754.0,467.5ZM746.0,443.9L754.0,436.1L762.0,443.9L754.0,451.8ZM858.4,334.0L866.4,326.2L874.5,334.0L866.4,341.9Z" fill="#00224e" fill-rule="evenodd" stroke="#00224e" stroke-width="2.0" stroke-linejoin="round" filter="url(#goo)"/>
<g clip-path="url(#cpR)"><path d="M746.0,459.6L754.0,451.8L762.0,451.8L762.0,443.9L762.0,428.2L754.0,420.4L762.0,412.5L770.1,420.4L778.1,412.5L762.0,396.8L770.1,389.0L778.1,396.8L794.2,396.8L802.2,389.0L794.2,389.0L786.1,381.1L794.2,373.3L802.2,373.3L810.2,381.1L810.2,373.3L834.3,349.7L842.3,357.6L850.4,349.7L858.4,357.6L858.4,365.4L850.4,373.3L858.4,381.1L842.3,396.8L842.3,404.7L834.3,412.5L794.2,451.8L786.1,443.9L778.1,451.8L778.1,459.6L770.1,467.5L754.0,467.5ZM746.0,443.9L754.0,436.1L762.0,443.9L754.0,451.8ZM858.4,334.0L866.4,326.2L874.5,334.0L866.4,341.9Z" fill="#06316f" fill-rule="evenodd" stroke="#00224e" stroke-width="11" stroke-linejoin="round" filter="url(#bl3)"/><g filter="url(#bl2)"><ellipse cx="810" cy="402" rx="46.7" ry="12.0" transform="rotate(-44 810 402)" fill="#243c6e"/><ellipse cx="810" cy="402" rx="38.0" ry="9.8" transform="rotate(-44 810 402)" fill="#35456c"/><ellipse cx="810" cy="402" rx="30.0" ry="7.7" transform="rotate(-44 810 402)" fill="#434e6c"/><ellipse cx="810" cy="402" rx="21.5" ry="5.5" transform="rotate(-44 810 402)" fill="#4f576c"/><ellipse cx="810" cy="402" rx="9.9" ry="2.6" transform="rotate(-44 810 402)" fill="#5b606e"/><ellipse cx="841.7" cy="380.5" rx="5.7" ry="3.8" transform="rotate(-44 841.7 380.5)" fill="#4f576c"/><ellipse cx="841.7" cy="380.5" rx="4.6" ry="3.0" transform="rotate(-44 841.7 380.5)" fill="#5b606e"/><ellipse cx="841.7" cy="380.5" rx="3.2" ry="2.2" transform="rotate(-44 841.7 380.5)" fill="#666970"/><ellipse cx="841.7" cy="380.5" rx="1.3" ry="0.9" transform="rotate(-44 841.7 380.5)" fill="#727274"/><ellipse cx="826.3" cy="387.6" rx="5.1" ry="3.4" transform="rotate(-44 826.3 387.6)" fill="#5b606e"/><ellipse cx="826.3" cy="387.6" rx="4.0" ry="2.6" transform="rotate(-44 826.3 387.6)" fill="#666970"/><ellipse cx="826.3" cy="387.6" rx="2.6" ry="1.7" transform="rotate(-44 826.3 387.6)" fill="#727274"/><ellipse cx="812" cy="396.8" rx="6.9" ry="4.3" transform="rotate(-44 812 396.8)" fill="#5b606e"/><ellipse cx="812" cy="396.8" rx="5.5" ry="3.4" transform="rotate(-44 812 396.8)" fill="#666970"/><ellipse cx="812" cy="396.8" rx="3.8" ry="2.3" transform="rotate(-44 812 396.8)" fill="#727274"/><ellipse cx="801.7" cy="411.2" rx="5.1" ry="3.4" transform="rotate(-44 801.7 411.2)" fill="#5b606e"/><ellipse cx="801.7" cy="411.2" rx="4.0" ry="2.6" transform="rotate(-44 801.7 411.2)" fill="#666970"/><ellipse cx="801.7" cy="411.2" rx="2.6" ry="1.7" transform="rotate(-44 801.7 411.2)" fill="#727274"/><ellipse cx="791.5" cy="420.4" rx="5.3" ry="3.5" transform="rotate(-44 791.5 420.4)" fill="#555c6d"/><ellipse cx="791.5" cy="420.4" rx="4.1" ry="2.7" transform="rotate(-44 791.5 420.4)" fill="#61656f"/><ellipse cx="791.5" cy="420.4" rx="2.6" ry="1.7" transform="rotate(-44 791.5 420.4)" fill="#6c6d72"/><ellipse cx="777.1" cy="443" rx="7.3" ry="4.9" transform="rotate(-44 777.1 443)" fill="#3c4a6c"/><ellipse cx="777.1" cy="443" rx="6.1" ry="4.1" transform="rotate(-44 777.1 443)" fill="#49536c"/><ellipse cx="777.1" cy="443" rx="4.9" ry="3.3" transform="rotate(-44 777.1 443)" fill="#555c6d"/><ellipse cx="777.1" cy="443" rx="3.6" ry="2.4" transform="rotate(-44 777.1 443)" fill="#61656f"/><ellipse cx="777.1" cy="443" rx="1.9" ry="1.2" transform="rotate(-44 777.1 443)" fill="#6c6d72"/></g></g>
<clipPath id="cpBL"><path d="M392.7,624.5L392.7,616.7L416.8,593.1L408.7,585.2L432.8,561.7L440.8,553.8L456.9,553.8L448.9,546.0L456.9,538.1L473.0,538.1L481.0,530.3L489.0,530.3L497.0,522.4L505.1,530.3L497.0,538.1L497.0,553.8L489.0,561.7L489.0,577.4L473.0,593.1L464.9,593.1L464.9,608.8L456.9,616.7L432.8,616.7L440.8,624.5L424.8,640.2L416.8,632.4L416.8,624.5L408.7,632.4L400.7,632.4ZM376.6,624.5L384.6,616.7L392.7,624.5L384.6,632.4ZM400.7,640.2L408.7,632.4L416.8,640.2L408.7,648.1ZM497.0,514.6L505.1,506.7L513.1,514.6L505.1,522.4ZM497.0,553.8L505.1,546.0L513.1,553.8L505.1,561.7Z" clip-rule="evenodd"/></clipPath>
<path d="M392.7,624.5L392.7,616.7L416.8,593.1L408.7,585.2L432.8,561.7L440.8,553.8L456.9,553.8L448.9,546.0L456.9,538.1L473.0,538.1L481.0,530.3L489.0,530.3L497.0,522.4L505.1,530.3L497.0,538.1L497.0,553.8L489.0,561.7L489.0,577.4L473.0,593.1L464.9,593.1L464.9,608.8L456.9,616.7L432.8,616.7L440.8,624.5L424.8,640.2L416.8,632.4L416.8,624.5L408.7,632.4L400.7,632.4ZM376.6,624.5L384.6,616.7L392.7,624.5L384.6,632.4ZM400.7,640.2L408.7,632.4L416.8,640.2L408.7,648.1ZM497.0,514.6L505.1,506.7L513.1,514.6L505.1,522.4ZM497.0,553.8L505.1,546.0L513.1,553.8L505.1,561.7Z" fill="#00224e" fill-rule="evenodd" stroke="#00224e" stroke-width="2.0" stroke-linejoin="round" filter="url(#goo)"/>
<g clip-path="url(#cpBL)"><path d="M392.7,624.5L392.7,616.7L416.8,593.1L408.7,585.2L432.8,561.7L440.8,553.8L456.9,553.8L448.9,546.0L456.9,538.1L473.0,538.1L481.0,530.3L489.0,530.3L497.0,522.4L505.1,530.3L497.0,538.1L497.0,553.8L489.0,561.7L489.0,577.4L473.0,593.1L464.9,593.1L464.9,608.8L456.9,616.7L432.8,616.7L440.8,624.5L424.8,640.2L416.8,632.4L416.8,624.5L408.7,632.4L400.7,632.4ZM376.6,624.5L384.6,616.7L392.7,624.5L384.6,632.4ZM400.7,640.2L408.7,632.4L416.8,640.2L408.7,648.1ZM497.0,514.6L505.1,506.7L513.1,514.6L505.1,522.4ZM497.0,553.8L505.1,546.0L513.1,553.8L505.1,561.7Z" fill="#06316f" fill-rule="evenodd" stroke="#00224e" stroke-width="11" stroke-linejoin="round" filter="url(#bl3)"/><g filter="url(#bl2)"><ellipse cx="452" cy="580" rx="43.2" ry="12.5" transform="rotate(-44 452 580)" fill="#243c6e"/><ellipse cx="452" cy="580" rx="34.9" ry="10.1" transform="rotate(-44 452 580)" fill="#35456c"/><ellipse cx="452" cy="580" rx="27.1" ry="7.9" transform="rotate(-44 452 580)" fill="#434e6c"/><ellipse cx="452" cy="580" rx="18.7" ry="5.4" transform="rotate(-44 452 580)" fill="#4f576c"/><ellipse cx="452" cy="580" rx="5.4" ry="1.6" transform="rotate(-44 452 580)" fill="#5b606e"/><ellipse cx="465.3" cy="561.6" rx="5.7" ry="4.3" transform="rotate(-44 465.3 561.6)" fill="#555c6d"/><ellipse cx="465.3" cy="561.6" rx="4.6" ry="3.5" transform="rotate(-44 465.3 561.6)" fill="#61656f"/><ellipse cx="465.3" cy="561.6" rx="3.4" ry="2.6" transform="rotate(-44 465.3 561.6)" fill="#6c6d72"/><ellipse cx="465.3" cy="561.6" rx="1.8" ry="1.3" transform="rotate(-44 465.3 561.6)" fill="#777776"/><ellipse cx="456.1" cy="575.9" rx="6.6" ry="4.1" transform="rotate(-44 456.1 575.9)" fill="#5b606e"/><ellipse cx="456.1" cy="575.9" rx="5.0" ry="3.1" transform="rotate(-44 456.1 575.9)" fill="#666970"/><ellipse cx="456.1" cy="575.9" rx="3.0" ry="1.9" transform="rotate(-44 456.1 575.9)" fill="#727274"/><ellipse cx="435.6" cy="598.5" rx="8.7" ry="5.2" transform="rotate(-44 435.6 598.5)" fill="#4f576c"/><ellipse cx="435.6" cy="598.5" rx="6.6" ry="4.0" transform="rotate(-44 435.6 598.5)" fill="#5b606e"/><ellipse cx="435.6" cy="598.5" rx="3.9" ry="2.3" transform="rotate(-44 435.6 598.5)" fill="#666970"/><ellipse cx="480.7" cy="544.2" rx="6.7" ry="4.5" transform="rotate(-44 480.7 544.2)" fill="#2d416d"/><ellipse cx="480.7" cy="544.2" rx="4.9" ry="3.3" transform="rotate(-44 480.7 544.2)" fill="#3c4a6c"/><ellipse cx="480.7" cy="544.2" rx="2.9" ry="1.9" transform="rotate(-44 480.7 544.2)" fill="#49536c"/></g></g>
<clipPath id="cpB"><path d="M569.3,632.4L569.3,608.8L577.3,601.0L577.3,593.1L585.4,585.2L593.4,585.2L601.4,577.4L601.4,569.5L593.4,561.7L601.4,553.8L609.5,553.8L617.5,561.7L625.5,561.7L617.5,553.8L633.6,538.1L649.6,538.1L649.6,530.3L641.6,522.4L649.6,514.6L665.7,530.3L665.7,522.4L673.7,514.6L681.7,522.4L681.7,530.3L673.7,538.1L681.7,538.1L689.8,546.0L673.7,561.7L665.7,553.8L665.7,569.5L657.6,577.4L665.7,585.2L657.6,593.1L649.6,593.1L641.6,601.0L641.6,608.8L625.5,624.5L617.5,624.5L609.5,632.4L601.4,632.4L593.4,640.2L577.3,640.2ZM577.3,648.1L585.4,640.2L593.4,648.1L585.4,655.9ZM689.8,514.6L697.8,506.7L705.8,514.6L697.8,522.4ZM689.8,538.1L697.8,530.3L705.8,538.1L697.8,546.0Z" clip-rule="evenodd"/></clipPath>
<path d="M569.3,632.4L569.3,608.8L577.3,601.0L577.3,593.1L585.4,585.2L593.4,585.2L601.4,577.4L601.4,569.5L593.4,561.7L601.4,553.8L609.5,553.8L617.5,561.7L625.5,561.7L617.5,553.8L633.6,538.1L649.6,538.1L649.6,530.3L641.6,522.4L649.6,514.6L665.7,530.3L665.7,522.4L673.7,514.6L681.7,522.4L681.7,530.3L673.7,538.1L681.7,538.1L689.8,546.0L673.7,561.7L665.7,553.8L665.7,569.5L657.6,577.4L665.7,585.2L657.6,593.1L649.6,593.1L641.6,601.0L641.6,608.8L625.5,624.5L617.5,624.5L609.5,632.4L601.4,632.4L593.4,640.2L577.3,640.2ZM577.3,648.1L585.4,640.2L593.4,648.1L585.4,655.9ZM689.8,514.6L697.8,506.7L705.8,514.6L697.8,522.4ZM689.8,538.1L697.8,530.3L705.8,538.1L697.8,546.0Z" fill="#00224e" fill-rule="evenodd" stroke="#00224e" stroke-width="2.0" stroke-linejoin="round" filter="url(#goo)"/>
<g clip-path="url(#cpB)"><path d="M569.3,632.4L569.3,608.8L577.3,601.0L577.3,593.1L585.4,585.2L593.4,585.2L601.4,577.4L601.4,569.5L593.4,561.7L601.4,553.8L609.5,553.8L617.5,561.7L625.5,561.7L617.5,553.8L633.6,538.1L649.6,538.1L649.6,530.3L641.6,522.4L649.6,514.6L665.7,530.3L665.7,522.4L673.7,514.6L681.7,522.4L681.7,530.3L673.7,538.1L681.7,538.1L689.8,546.0L673.7,561.7L665.7,553.8L665.7,569.5L657.6,577.4L665.7,585.2L657.6,593.1L649.6,593.1L641.6,601.0L641.6,608.8L625.5,624.5L617.5,624.5L609.5,632.4L601.4,632.4L593.4,640.2L577.3,640.2ZM577.3,648.1L585.4,640.2L593.4,648.1L585.4,655.9ZM689.8,514.6L697.8,506.7L705.8,514.6L697.8,522.4ZM689.8,538.1L697.8,530.3L705.8,538.1L697.8,546.0Z" fill="#06316f" fill-rule="evenodd" stroke="#00224e" stroke-width="11" stroke-linejoin="round" filter="url(#bl3)"/><g filter="url(#bl2)"><ellipse cx="630" cy="582" rx="41.8" ry="12.8" transform="rotate(-44 630 582)" fill="#243c6e"/><ellipse cx="630" cy="582" rx="33.2" ry="10.2" transform="rotate(-44 630 582)" fill="#35456c"/><ellipse cx="630" cy="582" rx="24.8" ry="7.6" transform="rotate(-44 630 582)" fill="#434e6c"/><ellipse cx="630" cy="582" rx="15.2" ry="4.7" transform="rotate(-44 630 582)" fill="#4f576c"/><ellipse cx="642.2" cy="561.5" rx="5.4" ry="4.1" transform="rotate(-44 642.2 561.5)" fill="#4f576c"/><ellipse cx="642.2" cy="561.5" rx="4.2" ry="3.1" transform="rotate(-44 642.2 561.5)" fill="#5b606e"/><ellipse cx="642.2" cy="561.5" rx="2.7" ry="2.0" transform="rotate(-44 642.2 561.5)" fill="#666970"/><ellipse cx="632" cy="590.2" rx="8.1" ry="5.2" transform="rotate(-44 632 590.2)" fill="#555c6d"/><ellipse cx="632" cy="590.2" rx="6.5" ry="4.2" transform="rotate(-44 632 590.2)" fill="#61656f"/><ellipse cx="632" cy="590.2" rx="4.8" ry="3.1" transform="rotate(-44 632 590.2)" fill="#6c6d72"/><ellipse cx="632" cy="590.2" rx="2.5" ry="1.6" transform="rotate(-44 632 590.2)" fill="#777776"/><ellipse cx="613.5" cy="596.3" rx="6.6" ry="4.1" transform="rotate(-44 613.5 596.3)" fill="#49536c"/><ellipse cx="613.5" cy="596.3" rx="4.4" ry="2.8" transform="rotate(-44 613.5 596.3)" fill="#555c6d"/></g></g>
<clipPath id="cpTL"><path d="M448.9,208.4L456.9,200.5L464.9,208.4L456.9,216.3ZM448.9,224.1L456.9,216.3L464.9,224.1L456.9,232.0ZM464.9,224.1L473.0,216.3L481.0,224.1L473.0,232.0ZM440.8,239.8L448.9,232.0L456.9,239.8L456.9,247.7L448.9,255.5L440.8,247.7Z" clip-rule="evenodd"/></clipPath>
<path d="M448.9,208.4L456.9,200.5L464.9,208.4L456.9,216.3ZM448.9,224.1L456.9,216.3L464.9,224.1L456.9,232.0ZM464.9,224.1L473.0,216.3L481.0,224.1L473.0,232.0ZM440.8,239.8L448.9,232.0L456.9,239.8L456.9,247.7L448.9,255.5L440.8,247.7Z" fill="#00224e" fill-rule="evenodd" stroke="#00224e" stroke-width="2.0" stroke-linejoin="round" filter="url(#goo)"/>
<g clip-path="url(#cpTL)"><path d="M448.9,208.4L456.9,200.5L464.9,208.4L456.9,216.3ZM448.9,224.1L456.9,216.3L464.9,224.1L456.9,232.0ZM464.9,224.1L473.0,216.3L481.0,224.1L473.0,232.0ZM440.8,239.8L448.9,232.0L456.9,239.8L456.9,247.7L448.9,255.5L440.8,247.7Z" fill="#06316f" fill-rule="evenodd" stroke="#00224e" stroke-width="11" stroke-linejoin="round" filter="url(#bl3)"/></g>
<clipPath id="cpBR"><path d="M770.1,585.2L778.1,577.4L786.1,585.2L778.1,593.1ZM786.1,577.4L794.2,569.5L802.2,577.4L794.2,585.2ZM778.1,601.0L786.1,593.1L794.2,601.0L786.1,608.8Z" clip-rule="evenodd"/></clipPath>
<path d="M770.1,585.2L778.1,577.4L786.1,585.2L778.1,593.1ZM786.1,577.4L794.2,569.5L802.2,577.4L794.2,585.2ZM778.1,601.0L786.1,593.1L794.2,601.0L786.1,608.8Z" fill="#00224e" fill-rule="evenodd" stroke="#00224e" stroke-width="2.0" stroke-linejoin="round" filter="url(#goo)"/>
<g clip-path="url(#cpBR)"><path d="M770.1,585.2L778.1,577.4L786.1,585.2L778.1,593.1ZM786.1,577.4L794.2,569.5L802.2,577.4L794.2,585.2ZM778.1,601.0L786.1,593.1L794.2,601.0L786.1,608.8Z" fill="#06316f" fill-rule="evenodd" stroke="#00224e" stroke-width="11" stroke-linejoin="round" filter="url(#bl3)"/></g>
<clipPath id="axclip"><rect x="343.6" y="136.9" width="555.70" height="543.95"/></clipPath>
<g fill="none" clip-path="url(#axclip)">
<ellipse transform="translate(446.45,237.90) scale(0.79430,-0.77680) rotate(45)" rx="150" ry="80" stroke="#000" stroke-width="2.7" stroke-dasharray="9.0 3.9" vector-effect="non-scaling-stroke"/>
<ellipse transform="translate(621.20,237.90) scale(0.79430,-0.77680) rotate(45)" rx="150" ry="80" stroke="#1b6f9f" stroke-width="10" vector-effect="non-scaling-stroke"/>
<ellipse transform="translate(795.95,237.90) scale(0.79430,-0.77680) rotate(45)" rx="150" ry="80" stroke="#6a8fb3" stroke-width="10" vector-effect="non-scaling-stroke"/>
<ellipse transform="translate(446.45,408.80) scale(0.79430,-0.77680) rotate(45)" rx="150" ry="80" stroke="#1b6f9f" stroke-width="10" vector-effect="non-scaling-stroke"/>
<ellipse transform="translate(621.20,408.80) scale(0.79430,-0.77680) rotate(45)" rx="150" ry="80" stroke="#02264e" stroke-width="10" vector-effect="non-scaling-stroke"/>
<ellipse transform="translate(795.95,408.80) scale(0.79430,-0.77680) rotate(45)" rx="150" ry="80" stroke="#1b6f9f" stroke-width="10" vector-effect="non-scaling-stroke"/>
<ellipse transform="translate(446.45,579.70) scale(0.79430,-0.77680) rotate(45)" rx="150" ry="80" stroke="#b8b6c8" stroke-width="10" vector-effect="non-scaling-stroke"/>
<ellipse transform="translate(621.20,579.70) scale(0.79430,-0.77680) rotate(45)" rx="150" ry="80" stroke="#1b6f9f" stroke-width="10" vector-effect="non-scaling-stroke"/>
<ellipse transform="translate(795.95,579.70) scale(0.79430,-0.77680) rotate(45)" rx="150" ry="80" stroke="#000" stroke-width="2.7" stroke-dasharray="9.0 3.9" vector-effect="non-scaling-stroke"/>
</g>
<rect x="343.60" y="1.00" width="555.70" height="135.90" fill="none" stroke="#000" stroke-width="2.1"/>
<rect x="899.30" y="136.90" width="139.00" height="543.95" fill="none" stroke="#000" stroke-width="2.1"/>
<rect x="343.60" y="136.90" width="555.70" height="543.95" fill="none" stroke="#000" stroke-width="2.1"/>
<path d="M446.45,680.85v8.75M446.45,136.9v8.75" stroke="#000" stroke-width="2.1"/>
<path d="M343.6,579.70h-8.75M899.3,579.70h-8.75" stroke="#000" stroke-width="2.1"/>
<path d="M621.20,680.85v8.75M621.20,136.9v8.75" stroke="#000" stroke-width="2.1"/>
<path d="M343.6,408.80h-8.75M899.3,408.80h-8.75" stroke="#000" stroke-width="2.1"/>
<path d="M795.95,680.85v8.75M795.95,136.9v8.75" stroke="#000" stroke-width="2.1"/>
<path d="M343.6,237.90h-8.75M899.3,237.90h-8.75" stroke="#000" stroke-width="2.1"/>
<text font-size="39.0" xml:space="preserve"><tspan x="403.78" y="729.62" font-size="44.00" textLength="29.59" lengthAdjust="spacingAndGlyphs">−</tspan><tspan x="432.75" y="725.00" font-size="39.0" textLength="58.20" lengthAdjust="spacingAndGlyphs">220</tspan></text>
<text x="611.44" y="725.00" font-size="39.0" textLength="19.52" lengthAdjust="spacingAndGlyphs">0</text>
<text x="767.28" y="725.00" font-size="39.0" textLength="57.24" lengthAdjust="spacingAndGlyphs">220</text>
<text x="269.18" y="251.60" font-size="39.0" textLength="57.46" lengthAdjust="spacingAndGlyphs">220</text>
<text x="306.45" y="422.50" font-size="39.0" textLength="20.60" lengthAdjust="spacingAndGlyphs">0</text>
<text font-size="39.0" xml:space="preserve"><tspan x="239.38" y="598.02" font-size="44.00" textLength="29.59" lengthAdjust="spacingAndGlyphs">−</tspan><tspan x="268.55" y="593.40" font-size="39.0" textLength="58.20" lengthAdjust="spacingAndGlyphs">220</tspan></text>
<text font-size="40.0" xml:space="preserve"><tspan x="485.01" y="771.00" font-size="40.0" textLength="102.02" lengthAdjust="spacingAndGlyphs">Signal</tspan> <tspan x="599.62" y="771.00" font-size="40.0" textLength="85.60" lengthAdjust="spacingAndGlyphs">delay</tspan> <tspan x="700.95" y="774.27" font-size="46.87" textLength="9.08" lengthAdjust="spacingAndGlyphs">[</tspan><tspan x="711.43" y="771.00" font-size="40.0" textLength="33.87" lengthAdjust="spacingAndGlyphs">ps</tspan><tspan x="746.16" y="774.27" font-size="46.87" textLength="7.99" lengthAdjust="spacingAndGlyphs">]</tspan></text>
<text transform="translate(240.00,409.50) rotate(-90)" font-size="40.0" xml:space="preserve"><tspan x="-122.20" y="0.00" font-size="40.0" textLength="75.30" lengthAdjust="spacingAndGlyphs">Idler</tspan> <tspan x="-32.69" y="0.00" font-size="40.0" textLength="85.70" lengthAdjust="spacingAndGlyphs">delay</tspan> <tspan x="68.75" y="3.27" font-size="46.87" textLength="9.08" lengthAdjust="spacingAndGlyphs">[</tspan><tspan x="79.23" y="0.00" font-size="40.0" textLength="33.87" lengthAdjust="spacingAndGlyphs">ps</tspan><tspan x="113.96" y="3.27" font-size="46.87" textLength="7.99" lengthAdjust="spacingAndGlyphs">]</tspan></text>
<text x="65.15" y="67.00" font-size="38" font-weight="bold" textLength="22.42" lengthAdjust="spacingAndGlyphs">a</text>
<text x="1051.16" y="77.00" font-size="39" font-weight="bold" textLength="24.45" lengthAdjust="spacingAndGlyphs">b</text>
<path d="M1179.00,680.85V675.00H1193.20V680.85ZM1193.20,680.85V659.10H1207.40V680.85ZM1207.40,680.85V581.10H1222.00V680.85ZM1222.00,680.85V575.50H1236.40V680.85ZM1236.40,680.85V559.20H1251.00V680.85ZM1251.00,680.85V597.60H1257.90V680.85ZM1257.90,680.85V603.00H1265.00V680.85ZM1265.00,680.85V608.80H1272.50V680.85ZM1272.50,680.85V653.30H1279.60V680.85ZM1279.60,680.85V670.00H1294.00V680.85Z" fill="#b8b6c8"/>
<path d="M1315.40,680.85V670.00H1330.00V680.85ZM1330.00,680.85V636.40H1337.10V680.85ZM1337.10,680.85V586.70H1351.50V680.85ZM1351.50,680.85V481.60H1358.80V680.85ZM1358.80,680.85V459.20H1373.20V680.85ZM1373.20,680.85V409.20H1387.80V680.85ZM1387.80,680.85V420.20H1394.90V680.85ZM1394.90,680.85V470.50H1401.80V680.85ZM1401.80,680.85V536.70H1409.10V680.85ZM1409.10,680.85V559.20H1416.40V680.85ZM1416.40,680.85V597.80H1423.50V680.85ZM1423.50,680.85V670.00H1430.80V680.85ZM1430.80,680.85V675.40H1445.20V680.85Z" fill="#1b6f9f"/>
<path d="M1459.60,680.85V653.30H1466.90V680.85ZM1466.90,680.85V608.80H1474.00V680.85ZM1474.00,680.85V531.40H1481.10V680.85ZM1481.10,680.85V409.40H1488.20V680.85ZM1488.20,680.85V398.60H1495.80V680.85ZM1495.80,680.85V331.80H1509.90V680.85ZM1509.90,680.85V293.00H1517.20V680.85ZM1517.20,680.85V215.80H1531.50V680.85ZM1531.50,680.85V309.90H1538.70V680.85ZM1538.70,680.85V431.70H1546.00V680.85ZM1546.00,680.85V448.20H1553.10V680.85ZM1553.10,680.85V581.10H1560.20V680.85ZM1560.20,680.85V614.10H1567.30V680.85ZM1567.30,680.85V664.40H1581.70V680.85Z" fill="#02264e"/>
<path d="M1589.20,680.85V675.40H1603.40V680.85ZM1603.40,680.85V659.10H1610.70V680.85ZM1610.70,680.85V614.10H1617.80V680.85ZM1617.80,680.85V548.30H1625.10V680.85ZM1625.10,680.85V476.20H1632.20V680.85ZM1632.20,680.85V448.20H1639.50V680.85ZM1639.50,680.85V442.60H1646.40V680.85ZM1646.40,680.85V415.00H1660.90V680.85ZM1660.90,680.85V459.20H1668.20V680.85ZM1668.20,680.85V442.60H1682.70V680.85ZM1682.70,680.85V564.40H1689.90V680.85ZM1689.90,680.85V603.00H1697.00V680.85ZM1697.00,680.85V659.10H1704.10V680.85ZM1704.10,680.85V664.40H1711.60V680.85Z" fill="#1b6f9f"/>
<path d="M1733.10,680.85V675.40H1740.20V680.85ZM1740.20,680.85V664.40H1747.30V680.85ZM1747.30,680.85V642.20H1761.70V680.85ZM1761.70,680.85V620.10H1769.20V680.85ZM1769.20,680.85V564.40H1783.40V680.85ZM1783.40,680.85V570.00H1790.50V680.85ZM1790.50,680.85V559.00H1797.80V680.85ZM1797.80,680.85V553.40H1812.00V680.85ZM1812.00,680.85V575.50H1819.30V680.85ZM1819.30,680.85V603.00H1826.40V680.85ZM1826.40,680.85V636.40H1833.70V680.85ZM1833.70,680.85V659.10H1840.80V680.85ZM1840.80,680.85V670.00H1847.90V680.85Z" fill="#6a8fb3"/>
<path d="M1308.45,680.85V136.9" stroke="#000" stroke-width="2.45" stroke-dasharray="2.45 4.0" fill="none"/>
<path d="M1445.2,680.85V136.9" stroke="#000" stroke-width="2.45" stroke-dasharray="2.45 4.0" fill="none"/>
<path d="M1581.8,680.85V136.9" stroke="#000" stroke-width="2.45" stroke-dasharray="2.45 4.0" fill="none"/>
<path d="M1718.5,680.85V136.9" stroke="#000" stroke-width="2.45" stroke-dasharray="2.45 4.0" fill="none"/>
<rect x="1129.60" y="136.90" width="767.80" height="543.95" fill="none" stroke="#000" stroke-width="2.1"/>
<path d="M1200.09,680.85v8.75" stroke="#000" stroke-width="2.1"/>
<path d="M1356.77,680.85v8.75" stroke="#000" stroke-width="2.1"/>
<path d="M1513.45,680.85v8.75" stroke="#000" stroke-width="2.1"/>
<path d="M1670.13,680.85v8.75" stroke="#000" stroke-width="2.1"/>
<path d="M1826.81,680.85v8.75" stroke="#000" stroke-width="2.1"/>
<text font-size="39.0" xml:space="preserve"><tspan x="1156.78" y="729.62" font-size="44.00" textLength="29.59" lengthAdjust="spacingAndGlyphs">−</tspan><tspan x="1186.94" y="725.00" font-size="39.0" textLength="57.19" lengthAdjust="spacingAndGlyphs">440</tspan></text>
<text font-size="39.0" xml:space="preserve"><tspan x="1313.38" y="729.62" font-size="44.00" textLength="29.59" lengthAdjust="spacingAndGlyphs">−</tspan><tspan x="1342.75" y="725.00" font-size="39.0" textLength="58.20" lengthAdjust="spacingAndGlyphs">220</tspan></text>
<text x="1503.64" y="725.00" font-size="39.0" textLength="19.52" lengthAdjust="spacingAndGlyphs">0</text>
<text x="1640.85" y="725.00" font-size="39.0" textLength="58.30" lengthAdjust="spacingAndGlyphs">220</text>
<text x="1798.24" y="725.00" font-size="39.0" textLength="57.29" lengthAdjust="spacingAndGlyphs">440</text>
<text font-size="40.0" xml:space="preserve"><tspan x="1334.43" y="771.00" font-size="40.0" textLength="186.82" lengthAdjust="spacingAndGlyphs">Signal-idler</tspan> <tspan x="1535.02" y="771.00" font-size="40.0" textLength="85.19" lengthAdjust="spacingAndGlyphs">delay</tspan> <tspan x="1636.75" y="774.27" font-size="46.87" textLength="9.08" lengthAdjust="spacingAndGlyphs">[</tspan><tspan x="1647.23" y="771.00" font-size="40.0" textLength="33.87" lengthAdjust="spacingAndGlyphs">ps</tspan><tspan x="1681.96" y="774.27" font-size="46.87" textLength="7.99" lengthAdjust="spacingAndGlyphs">]</tspan></text>
<text font-size="40.0" xml:space="preserve"><tspan x="1249.28" y="121.90" font-size="40.0" textLength="98.17" lengthAdjust="spacingAndGlyphs">Triple</tspan> <tspan x="1358.01" y="121.90" font-size="40.0" textLength="189.67" lengthAdjust="spacingAndGlyphs">coincidence</tspan> <tspan x="1559.89" y="121.90" font-size="40.0" textLength="216.15" lengthAdjust="spacingAndGlyphs">measurement</tspan></text>
<path d="M1897.4,680.74h8.75" stroke="#000" stroke-width="2.1"/>
<text x="1913.77" y="694.49" font-size="39.0" textLength="49.52" lengthAdjust="spacingAndGlyphs">0.0</text>
<path d="M1897.4,587.74h8.75" stroke="#000" stroke-width="2.1"/>
<text x="1913.74" y="601.49" font-size="39.0" textLength="50.16" lengthAdjust="spacingAndGlyphs">0.2</text>
<path d="M1897.4,494.74h8.75" stroke="#000" stroke-width="2.1"/>
<text x="1913.80" y="508.49" font-size="39.0" textLength="48.48" lengthAdjust="spacingAndGlyphs">0.4</text>
<path d="M1897.4,401.74h8.75" stroke="#000" stroke-width="2.1"/>
<text x="1913.78" y="415.49" font-size="39.0" textLength="49.10" lengthAdjust="spacingAndGlyphs">0.6</text>
<path d="M1897.4,308.74h8.75" stroke="#000" stroke-width="2.1"/>
<text x="1913.77" y="322.49" font-size="39.0" textLength="49.52" lengthAdjust="spacingAndGlyphs">0.8</text>
<path d="M1897.4,215.74h8.75" stroke="#000" stroke-width="2.1"/>
<text x="1914.05" y="229.49" font-size="39.0" textLength="49.22" lengthAdjust="spacingAndGlyphs">1.0</text>
<text transform="translate(2000.20,409.50) rotate(-90)" font-size="40.0" xml:space="preserve"><tspan x="-161.51" y="0.00" font-size="40.0" textLength="104.15" lengthAdjust="spacingAndGlyphs">Norm.</tspan> <tspan x="-40.87" y="0.00" font-size="40.0" textLength="203.11" lengthAdjust="spacingAndGlyphs">coincidences</tspan></text>
<text font-size="39.0" xml:space="preserve"><tspan x="1200.80" y="179.53" font-size="42.64" textLength="9.61" lengthAdjust="spacingAndGlyphs">|</tspan><tspan x="1213.28" y="179.10" font-size="41.07" font-style="italic" textLength="58.52" lengthAdjust="spacingAndGlyphs">EE</tspan><tspan x="1270.32" y="183.03" font-size="43.60" font-family="'DejaVu Sans', sans-serif" textLength="16.49" lengthAdjust="spacingAndGlyphs">⟩</tspan></text>
<text font-size="39.0" xml:space="preserve"><tspan x="1339.00" y="179.53" font-size="42.64" textLength="9.61" lengthAdjust="spacingAndGlyphs">|</tspan><tspan x="1351.35" y="179.10" font-size="41.07" font-style="italic" textLength="52.73" lengthAdjust="spacingAndGlyphs">ET</tspan><tspan x="1405.25" y="183.03" font-size="43.60" font-family="'DejaVu Sans', sans-serif" textLength="16.85" lengthAdjust="spacingAndGlyphs">⟩</tspan> <tspan x="1363.20" y="228.40" font-size="40.96" font-weight="200" font-family="'DejaVu Sans', sans-serif" textLength="34.32" lengthAdjust="spacingAndGlyphs">+</tspan> <tspan x="1339.00" y="272.53" font-size="42.64" textLength="9.61" lengthAdjust="spacingAndGlyphs">|</tspan><tspan x="1346.39" y="272.10" font-size="41.07" font-style="italic" textLength="61.31" lengthAdjust="spacingAndGlyphs">TE</tspan><tspan x="1405.75" y="276.03" font-size="43.60" font-family="'DejaVu Sans', sans-serif" textLength="16.32" lengthAdjust="spacingAndGlyphs">⟩</tspan></text>
<text font-size="39.0" xml:space="preserve"><tspan x="1477.10" y="179.53" font-size="42.64" textLength="9.61" lengthAdjust="spacingAndGlyphs">|</tspan><tspan x="1484.86" y="179.10" font-size="41.07" font-style="italic" textLength="54.51" lengthAdjust="spacingAndGlyphs">TT</tspan><tspan x="1540.65" y="183.03" font-size="43.60" font-family="'DejaVu Sans', sans-serif" textLength="16.85" lengthAdjust="spacingAndGlyphs">⟩</tspan></text>
<text font-size="39.0" xml:space="preserve"><tspan x="1614.80" y="179.53" font-size="42.64" textLength="9.61" lengthAdjust="spacingAndGlyphs">|</tspan><tspan x="1627.14" y="179.10" font-size="41.07" font-style="italic" textLength="48.31" lengthAdjust="spacingAndGlyphs">LT</tspan><tspan x="1676.62" y="183.03" font-size="43.60" font-family="'DejaVu Sans', sans-serif" textLength="16.49" lengthAdjust="spacingAndGlyphs">⟩</tspan> <tspan x="1636.70" y="228.40" font-size="40.96" font-weight="200" font-family="'DejaVu Sans', sans-serif" textLength="34.32" lengthAdjust="spacingAndGlyphs">+</tspan> <tspan x="1614.80" y="272.53" font-size="42.64" textLength="9.61" lengthAdjust="spacingAndGlyphs">|</tspan><tspan x="1622.35" y="272.10" font-size="41.07" font-style="italic" textLength="57.29" lengthAdjust="spacingAndGlyphs">TL</tspan><tspan x="1676.62" y="276.03" font-size="43.60" font-family="'DejaVu Sans', sans-serif" textLength="16.49" lengthAdjust="spacingAndGlyphs">⟩</tspan></text>
<text font-size="39.0" xml:space="preserve"><tspan x="1752.10" y="179.53" font-size="42.64" textLength="9.61" lengthAdjust="spacingAndGlyphs">|</tspan><tspan x="1764.46" y="179.10" font-size="41.07" font-style="italic" textLength="51.12" lengthAdjust="spacingAndGlyphs">LL</tspan><tspan x="1812.62" y="183.03" font-size="43.60" font-family="'DejaVu Sans', sans-serif" textLength="16.49" lengthAdjust="spacingAndGlyphs">⟩</tspan></text>
</svg>
</body></html>
